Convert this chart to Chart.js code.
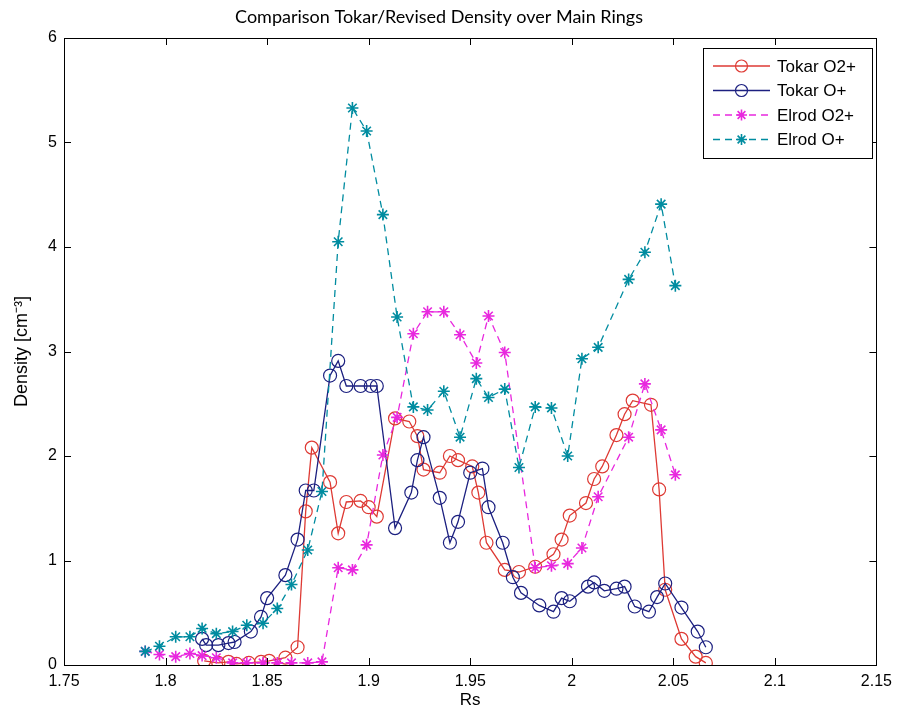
<!DOCTYPE html>
<html>
<head>
<meta charset="utf-8">
<script src="https://cdn.jsdelivr.net/npm/chart.js@4.4.0/dist/chart.umd.min.js"></script>
<style>
html,body{margin:0;padding:0;background:#fff;}
#wrap{width:899px;height:711px;position:relative;}
</style>
</head>
<body>
<div id="wrap"><canvas id="c" width="899" height="711"></canvas></div>
<script>
const chartTitle = 'Comparison Tokar/Revised Density over Main Rings';
const xAxisTitle = 'Rs';
const yAxisTitle = 'Density [cm\u207B\u00B3]';
const seriesNames = ['Tokar O2+', 'Tokar O+', 'Elrod O2+', 'Elrod O+'];

const tokarO2Rs = [1.819,1.826,1.831,1.835,1.841,1.847,1.851,1.859,1.865,1.869,1.872,1.881,1.885,1.889,1.896,1.900,1.904,1.913,1.920,1.924,1.927,1.935,1.940,1.944,1.951,1.954,1.958,1.967,1.974,1.982,1.991,1.995,1.999,2.007,2.011,2.015,2.022,2.026,2.030,2.039,2.043,2.046,2.054,2.061,2.066];
const tokarO2Density = [0.04,0.02,0.03,0.01,0.02,0.03,0.04,0.07,0.17,1.47,2.08,1.75,1.26,1.56,1.57,1.51,1.42,2.36,2.33,2.19,1.87,1.84,2.00,1.96,1.90,1.65,1.17,0.91,0.89,0.94,1.06,1.20,1.43,1.55,1.78,1.90,2.20,2.40,2.53,2.49,1.68,0.72,0.25,0.08,0.02];

const tokarORs = [1.818,1.820,1.826,1.831,1.834,1.842,1.847,1.850,1.859,1.865,1.869,1.873,1.881,1.885,1.889,1.896,1.901,1.904,1.913,1.921,1.924,1.927,1.935,1.940,1.944,1.950,1.956,1.959,1.966,1.971,1.975,1.984,1.991,1.995,1.999,2.008,2.011,2.016,2.022,2.026,2.031,2.038,2.042,2.046,2.054,2.062,2.066];
const tokarODensity = [0.25,0.19,0.19,0.21,0.22,0.32,0.46,0.64,0.86,1.20,1.67,1.67,2.77,2.91,2.67,2.67,2.67,2.67,1.31,1.65,1.96,2.18,1.60,1.17,1.37,1.84,1.88,1.51,1.17,0.84,0.69,0.57,0.51,0.64,0.61,0.75,0.79,0.71,0.73,0.75,0.56,0.51,0.65,0.78,0.55,0.32,0.17];

const elrodO2Rs = [1.790,1.797,1.805,1.812,1.818,1.825,1.833,1.840,1.848,1.855,1.862,1.870,1.877,1.885,1.892,1.899,1.907,1.914,1.922,1.929,1.937,1.945,1.953,1.959,1.967,1.982,1.990,1.998,2.005,2.013,2.028,2.036,2.044,2.051];
const elrodO2Density = [0.13,0.10,0.08,0.11,0.09,0.07,0.02,0.02,0.02,0.02,0.02,0.02,0.03,0.93,0.91,1.15,2.01,2.37,3.17,3.38,3.38,3.16,2.89,3.34,2.99,0.93,0.95,0.97,1.12,1.61,2.18,2.69,2.25,1.82];

const elrodORs = [1.790,1.797,1.805,1.812,1.818,1.825,1.833,1.840,1.848,1.855,1.862,1.870,1.877,1.885,1.892,1.899,1.907,1.914,1.922,1.929,1.937,1.945,1.953,1.959,1.967,1.974,1.982,1.990,1.998,2.005,2.013,2.028,2.036,2.044,2.051];
const elrodODensity = [0.13,0.18,0.27,0.27,0.35,0.30,0.32,0.38,0.40,0.54,0.77,1.10,1.66,4.05,5.33,5.11,4.31,3.33,2.47,2.44,2.62,2.18,2.74,2.56,2.64,1.89,2.47,2.46,2.00,2.93,3.04,3.69,3.95,4.41,3.63];

const xTickValues = [1.75,1.8,1.85,1.9,1.95,2,2.05,2.1,2.15];
const xTickLabels = ['1.75','1.8','1.85','1.9','1.95','2','2.05','2.1','2.15'];
const yTickValues = [0,1,2,3,4,5,6];
const yTickLabels = ['0','1','2','3','4','5','6'];

const seriesColors = ['rgb(222,58,52)', 'rgb(28,32,128)', 'rgb(232,40,222)', 'rgb(0,140,160)'];
const seriesMarkers = ['circle', 'circle', 'star', 'star'];
const seriesDash = [[], [], [7,5], [7,5]];

function pts(xs, ys) { return xs.map((x, i) => ({x: x, y: ys[i]})); }

const allSeries = [
  pts(tokarO2Rs, tokarO2Density),
  pts(tokarORs, tokarODensity),
  pts(elrodO2Rs, elrodO2Density),
  pts(elrodORs, elrodODensity)
];

const datasets = allSeries.map((d, i) => ({
  label: seriesNames[i],
  data: d,
  borderColor: seriesColors[i],
  backgroundColor: 'rgba(0,0,0,0)',
  pointBorderColor: seriesColors[i],
  pointBackgroundColor: 'rgba(0,0,0,0)',
  pointStyle: seriesMarkers[i],
  pointRadius: seriesMarkers[i] === 'circle' ? 6.5 : 6,
  pointBorderWidth: seriesMarkers[i] === 'circle' ? 1.2 : 1.6,
  borderWidth: 1.3,
  borderDash: seriesDash[i],
  tension: 0,
  fill: false,
  order: 4 - i
}));

function drawMarker(ctx, style, x, y, r, color) {
  ctx.save();
  ctx.strokeStyle = color;
  ctx.lineWidth = style === 'circle' ? 1.2 : 1.6;
  ctx.setLineDash([]);
  ctx.beginPath();
  if (style === 'circle') {
    ctx.arc(x, y, r, 0, Math.PI * 2);
  } else {
    for (let k = 0; k < 4; k++) {
      const a = k * Math.PI / 4;
      ctx.moveTo(x + Math.cos(a) * r, y + Math.sin(a) * r);
      ctx.lineTo(x - Math.cos(a) * r, y - Math.sin(a) * r);
    }
  }
  ctx.stroke();
  ctx.restore();
}

const framePlugin = {
  id: 'frame',
  afterDraw(chart) {
    const ctx = chart.ctx;
    const a = chart.chartArea;
    const xs = chart.scales.x, ys = chart.scales.y;
    ctx.save();
    ctx.strokeStyle = '#000';
    ctx.lineWidth = 1;
    ctx.setLineDash([]);
    ctx.strokeRect(Math.round(a.left) + 0.5, Math.round(a.top) + 0.5, Math.round(a.right - a.left), Math.round(a.bottom - a.top));
    const tl = 7;
    ctx.beginPath();
    xTickValues.forEach(v => {
      const px = Math.round(xs.getPixelForValue(v)) + 0.5;
      ctx.moveTo(px, a.bottom); ctx.lineTo(px, a.bottom - tl);
      ctx.moveTo(px, a.top); ctx.lineTo(px, a.top + tl);
    });
    yTickValues.forEach(v => {
      const py = Math.round(ys.getPixelForValue(v)) + 0.5;
      ctx.moveTo(a.left, py); ctx.lineTo(a.left + tl, py);
      ctx.moveTo(a.right, py); ctx.lineTo(a.right - tl, py);
    });
    ctx.stroke();

    // legend box
    const bx = 703, by = 48, bw = 169, bh = 110;
    ctx.fillStyle = '#fff';
    ctx.fillRect(bx, by, bw, bh);
    ctx.strokeStyle = '#000';
    ctx.strokeRect(bx + 0.5, by + 0.5, bw, bh);
    ctx.font = '17px "Liberation Sans", Arial, sans-serif';
    ctx.textBaseline = 'middle';
    ctx.textAlign = 'left';
    seriesNames.forEach((name, i) => {
      const y = by + 18 + i * 24.5;
      ctx.save();
      ctx.strokeStyle = seriesColors[i];
      ctx.lineWidth = 1.3;
      ctx.setLineDash(seriesDash[i]);
      ctx.beginPath();
      ctx.moveTo(713, y); ctx.lineTo(770, y);
      ctx.stroke();
      ctx.restore();
      drawMarker(ctx, seriesMarkers[i], 741.5, y, seriesMarkers[i] === 'circle' ? 6 : 5.5, seriesColors[i]);
      ctx.fillStyle = '#000';
      ctx.fillText(name, 777, y + 1);
    });
    ctx.restore();
  }
};

new Chart(document.getElementById('c'), {
  type: 'line',
  data: { datasets: datasets },
  plugins: [framePlugin],
  options: {
    responsive: false,
    animation: false,
    layout: { padding: { left: 0, right: 21, top: 0, bottom: 0 } },
    plugins: {
      legend: { display: false },
      tooltip: { enabled: false },
      title: {
        display: true,
        text: chartTitle,
        color: '#000',
        font: { family: 'Lato', size: 18, weight: 'normal' },
        padding: { top: 6, bottom: 10.4 }
      }
    },
    scales: {
      x: {
        type: 'linear',
        min: 1.75,
        max: 2.15,
        afterBuildTicks: s => { s.ticks = xTickValues.map(v => ({ value: v })); },
        ticks: {
          callback: v => xTickLabels[xTickValues.indexOf(v)],
          color: '#000',
          font: { family: 'Liberation Sans', size: 16 },
          padding: 7,
          maxRotation: 0,
          autoSkip: false
        },
        grid: { display: false, drawTicks: false },
        border: { display: false },
        title: {
          display: true,
          text: xAxisTitle,
          color: '#000',
          font: { family: 'Liberation Sans', size: 17 },
          padding: { top: 0, bottom: 0 }
        },
        afterFit: s => { s.height = 46; }
      },
      y: {
        type: 'linear',
        min: 0,
        max: 6,
        afterBuildTicks: s => { s.ticks = yTickValues.map(v => ({ value: v })); },
        ticks: {
          callback: v => yTickLabels[yTickValues.indexOf(v)],
          color: '#000',
          font: { family: 'Liberation Sans', size: 16 },
          padding: 7
        },
        grid: { display: false, drawTicks: false },
        border: { display: false },
        title: {
          display: true,
          text: yAxisTitle,
          color: '#000',
          font: { family: 'Liberation Sans', size: 18 },
          padding: { top: 11, bottom: 0 }
        },
        afterFit: s => { s.width = 64; }
      }
    }
  }
});
</script>
</body>
</html>
